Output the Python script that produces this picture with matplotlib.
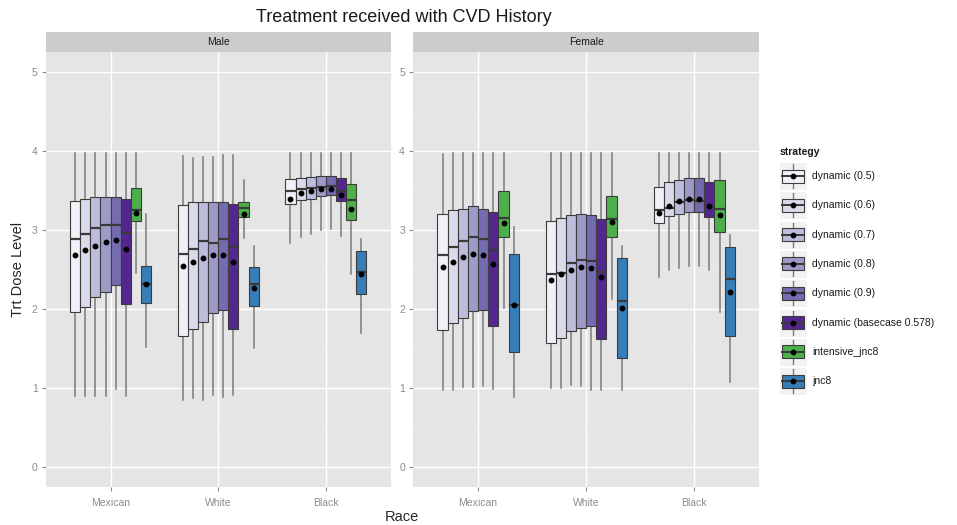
import matplotlib

matplotlib.use("Agg")
import matplotlib.pyplot as plt
from matplotlib.patches import Rectangle
import numpy as np

plt.rcParams["font.family"] = ["Liberation Sans", "DejaVu Sans"]

sexes = ["Male", "Female"]
races = ["Mexican", "White", "Black"]
strategies = [
    "dynamic (0.5)", "dynamic (0.6)", "dynamic (0.7)", "dynamic (0.8)",
    "dynamic (0.9)", "dynamic (basecase 0.578)", "intensive_jnc8", "jnc8",
]
colors = ["#F2F0F7", "#DADAEB", "#BCBDDC", "#9E9AC8", "#756BB1", "#54278F",
          "#4DAF4A", "#377EB8"]

# [sex][race][strategy]
whishi = [
    [[3.98, 3.98, 3.98, 3.98, 3.98, 3.98, 3.98, 3.20],
     [3.94, 3.92, 3.93, 3.93, 3.95, 3.95, 3.63, 2.80],
     [3.98, 3.98, 3.98, 3.98, 3.98, 3.98, 3.98, 2.89]],
    [[3.97, 3.98, 3.98, 3.98, 3.98, 3.98, 3.98, 3.04],
     [3.98, 3.98, 3.98, 3.98, 3.98, 3.98, 3.98, 2.80],
     [3.98, 3.98, 3.98, 3.98, 3.98, 3.98, 3.98, 2.94]],
]
q3 = [
    [[3.37, 3.40, 3.42, 3.42, 3.42, 3.40, 3.54, 2.54],
     [3.32, 3.35, 3.35, 3.36, 3.36, 3.33, 3.35, 2.53],
     [3.65, 3.66, 3.67, 3.68, 3.69, 3.66, 3.59, 2.73]],
    [[3.21, 3.25, 3.27, 3.30, 3.27, 3.23, 3.50, 2.70],
     [3.11, 3.15, 3.19, 3.21, 3.19, 3.14, 3.43, 2.65],
     [3.55, 3.61, 3.64, 3.66, 3.66, 3.61, 3.63, 2.79]],
]
med = [
    [[2.89, 2.95, 3.03, 3.06, 3.06, 2.96, 3.25, 2.31],
     [2.70, 2.76, 2.86, 2.84, 2.89, 2.78, 3.28, 2.31],
     [3.49, 3.52, 3.53, 3.55, 3.56, 3.49, 3.38, 2.47]],
    [[2.68, 2.79, 2.86, 2.91, 2.89, 2.75, 3.15, 2.05],
     [2.44, 2.46, 2.58, 2.62, 2.61, 2.47, 3.14, 2.10],
     [3.25, 3.28, 3.35, 3.38, 3.37, 3.28, 3.27, 2.38]],
]
mean = [
    [[2.69, 2.75, 2.80, 2.85, 2.87, 2.76, 3.22, 2.31],
     [2.54, 2.59, 2.65, 2.68, 2.69, 2.59, 3.21, 2.26],
     [3.40, 3.47, 3.49, 3.52, 3.52, 3.45, 3.27, 2.44]],
    [[2.53, 2.60, 2.66, 2.70, 2.69, 2.57, 3.09, 2.05],
     [2.37, 2.44, 2.49, 2.53, 2.52, 2.41, 3.10, 2.01],
     [3.22, 3.31, 3.37, 3.40, 3.40, 3.30, 3.19, 2.22]],
]
q1 = [
    [[1.96, 2.03, 2.15, 2.22, 2.30, 2.06, 3.11, 2.07],
     [1.66, 1.75, 1.84, 1.95, 1.98, 1.74, 3.17, 2.04],
     [3.33, 3.38, 3.40, 3.43, 3.45, 3.37, 3.13, 2.19]],
    [[1.73, 1.82, 1.89, 1.97, 1.98, 1.78, 2.91, 1.45],
     [1.57, 1.63, 1.72, 1.76, 1.78, 1.62, 2.91, 1.38],
     [3.09, 3.18, 3.20, 3.23, 3.23, 3.16, 2.97, 1.66]],
]
whislo = [
    [[0.89, 0.89, 0.89, 0.90, 0.98, 0.89, 2.46, 1.52],
     [0.85, 0.87, 0.84, 0.91, 0.88, 0.91, 2.90, 1.50],
     [2.83, 2.91, 2.95, 3.00, 3.02, 2.92, 2.44, 1.70]],
    [[0.97, 0.97, 1.01, 1.01, 1.02, 0.99, 2.01, 0.88],
     [1.00, 1.00, 1.04, 1.02, 0.97, 0.97, 2.13, 0.97],
     [2.41, 2.50, 2.52, 2.54, 2.54, 2.50, 1.96, 1.07]],
]

W, H = 957, 525
PANEL_BG = "#E5E5E5"
STRIP_BG = "#CCCCCC"
EDGE = "#3C3C3C"
WHISK = "#7A7A7A"
TICK_GREY = "#8C8C8C"
step = 0.094  # dodge spacing between boxes


def px_axes(fig, x0, y0, x1, y1):
    """Add axes given pixel box (top-left origin)."""
    return fig.add_axes([x0 / W, 1 - y1 / H, (x1 - x0) / W, (y1 - y0) / H])


fig = plt.figure(figsize=(W / 100, H / 100), dpi=100)

panel_px = [(46, 52.3, 390.5, 486.7), (413.3, 52.3, 759, 486.7)]
for s, sex in enumerate(sexes):
    x0, y0, x1, y1 = panel_px[s]
    ax = px_axes(fig, x0, y0, x1, y1)
    ax.set_facecolor(PANEL_BG)
    for sp in ax.spines.values():
        sp.set_visible(False)
    ax.set_xlim(0.4, 3.6)
    ax.set_ylim(-0.255, 5.255)
    ax.set_yticks(range(6))
    ax.set_yticks(np.arange(0.5, 5, 1), minor=True)
    ax.set_xticks([1, 2, 3])
    ax.set_xticklabels(races)
    ax.grid(True, which="major", color="white", linewidth=1.0)
    ax.grid(True, which="minor", axis="y", color="#EDEDED", linewidth=0.5)
    ax.set_axisbelow(True)
    ax.tick_params(which="major", length=3, width=0.8, color=TICK_GREY,
                   labelcolor=TICK_GREY, labelsize=7.5, pad=3)
    ax.tick_params(axis="x", which="major", pad=5)
    ax.tick_params(which="minor", length=0)

    for r in range(len(races)):
        stats = []
        for k in range(len(strategies)):
            stats.append(dict(
                med=med[s][r][k], q1=q1[s][r][k], q3=q3[s][r][k],
                whislo=whislo[s][r][k], whishi=whishi[s][r][k],
                mean=mean[s][r][k], fliers=[],
            ))
        pos = [r + 1 + (k - 3.5) * step for k in range(len(strategies))]
        bp = ax.bxp(
            stats, positions=pos, widths=step, patch_artist=True,
            showmeans=True, showcaps=False, manage_ticks=False,
            boxprops=dict(edgecolor=EDGE, linewidth=0.8),
            whiskerprops=dict(color=WHISK, linewidth=1.1),
            medianprops=dict(color="#3A3A3A", linewidth=1.6),
            meanprops=dict(marker="o", markerfacecolor="black",
                           markeredgecolor="black", markersize=3.2),
        )
        for patch, c in zip(bp["boxes"], colors):
            patch.set_facecolor(c)
        for patch in bp["boxes"]:
            patch.set_zorder(3)
        for ln in bp["medians"] + bp["means"]:
            ln.set_zorder(4)

    # facet strip
    st = px_axes(fig, x0, 31.7, x1, 52.3)
    st.set_facecolor(STRIP_BG)
    st.set_xticks([])
    st.set_yticks([])
    for sp in st.spines.values():
        sp.set_visible(False)
    st.text(0.5, 0.5, sex, ha="center", va="center", fontsize=7.5,
            color="#1A1A1A", transform=st.transAxes)

fig.text(404 / W, 1 - 18 / H, "Treatment received with CVD History",
         ha="center", va="center", fontsize=13, color="#1A1A1A")
fig.text(402 / W, 1 - 517 / H, "Race", ha="center", va="center",
         fontsize=10.5, color="#262626")
fig.text(18 / W, 1 - 269 / H, "Trt Dose Level", ha="center", va="center",
         rotation=90, fontsize=10.5, color="#262626")

# legend drawn in pixel space
lg = fig.add_axes([0, 0, 1, 1], facecolor="none")
lg.set_xlim(0, W)
lg.set_ylim(H, 0)
lg.axis("off")
lg.text(780, 152, "strategy", ha="left", va="center", fontsize=7.5,
        fontweight="bold", color="#1A1A1A")
key_y0 = 176
key_dy = 29.3
for k, (name, c) in enumerate(zip(strategies, colors)):
    cy = key_y0 + k * key_dy
    lg.add_patch(Rectangle((779, cy - 14), 28, 28, facecolor="#F2F2F2",
                           edgecolor="white", linewidth=0.8))
    lg.plot([793, 793], [cy - 12, cy + 12], color=WHISK, linewidth=1.0)
    lg.add_patch(Rectangle((782, cy - 6.5), 22, 13, facecolor=c,
                           edgecolor=EDGE, linewidth=0.8, zorder=3))
    lg.plot([782, 804], [cy, cy], color="#3A3A3A", linewidth=1.4, zorder=4)
    lg.plot([793], [cy], "o", color="black", markersize=3.2, zorder=5)
    lg.text(812, cy, name, ha="left", va="center", fontsize=7.5,
            color="#1A1A1A")

fig.savefig("out.png", dpi=100)
plt.close(fig)
